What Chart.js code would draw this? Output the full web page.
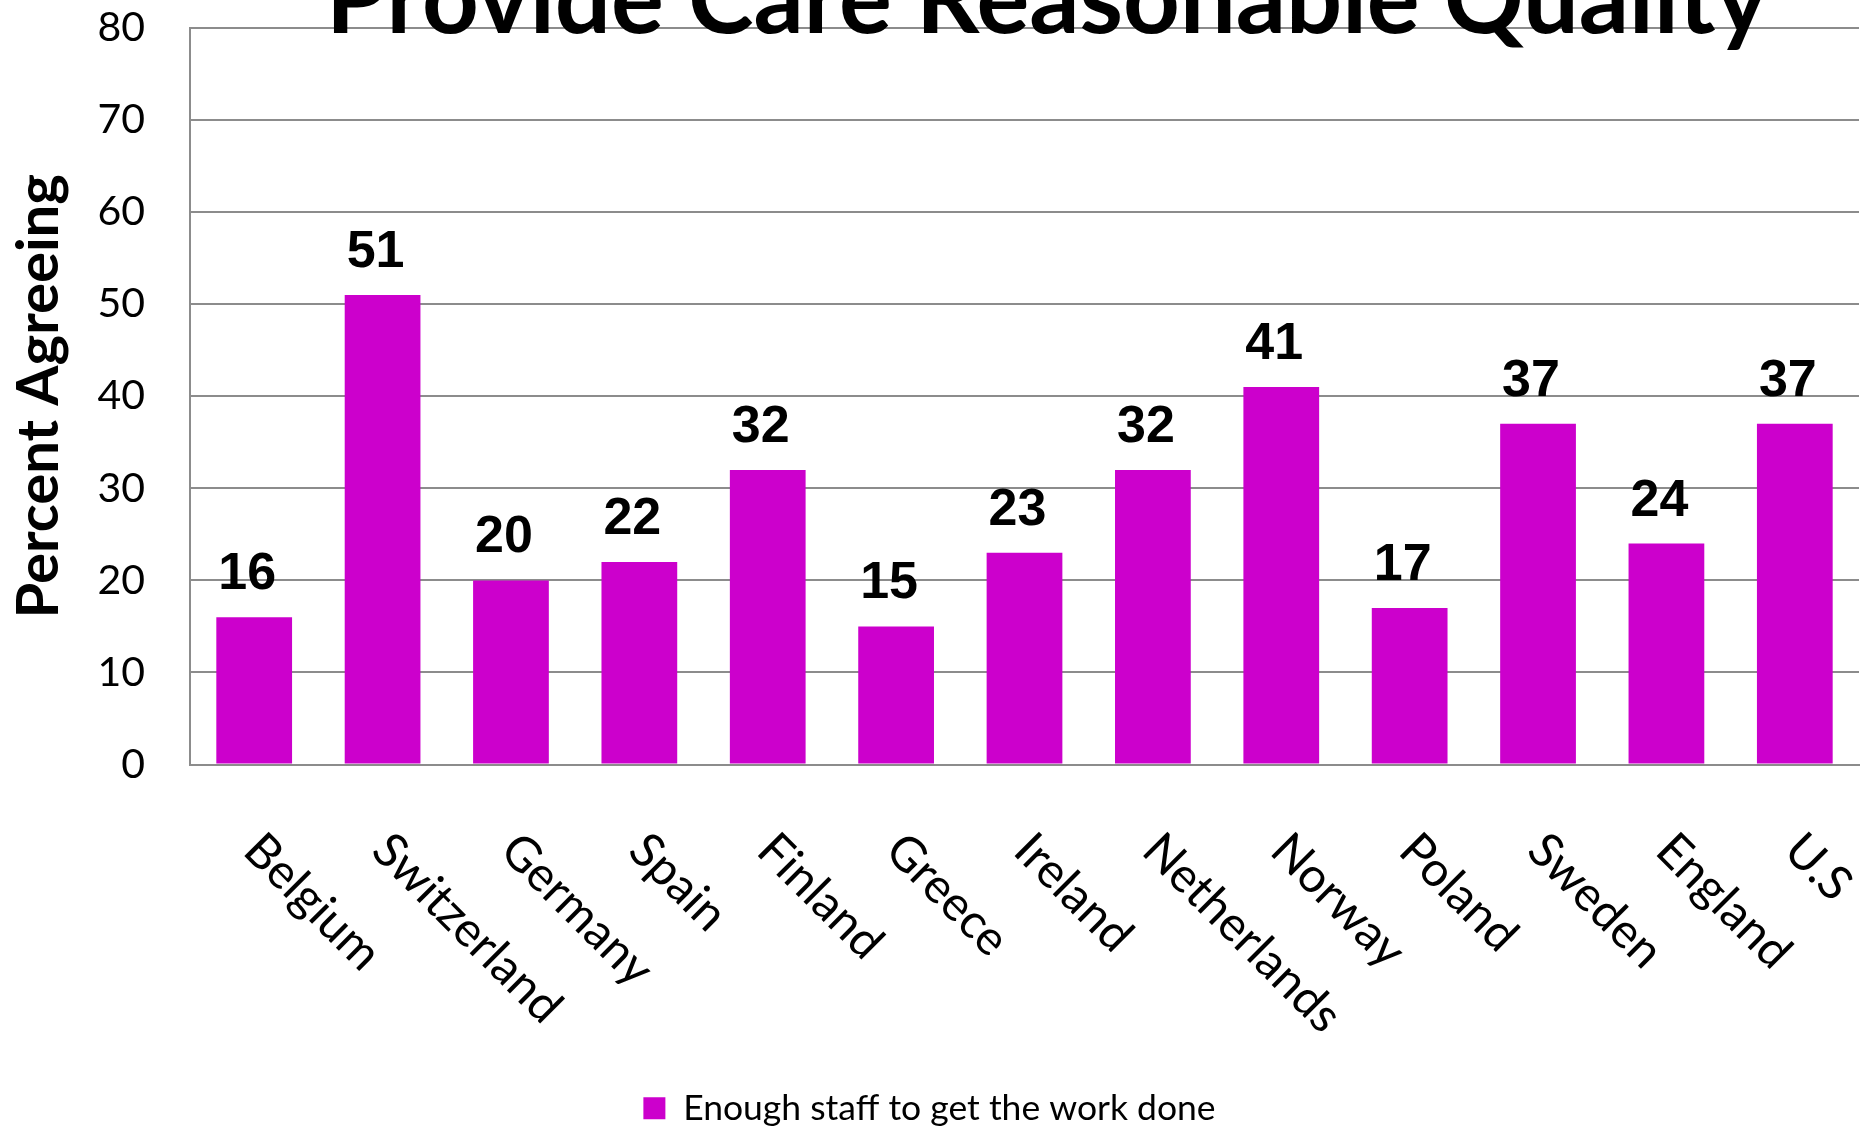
<!DOCTYPE html>
<html>
<head>
<meta charset="utf-8">
<script src="https://cdn.jsdelivr.net/npm/chart.js@4.4.1/dist/chart.umd.min.js"></script>
<style>
  html, body { margin: 0; padding: 0; background: #fff; overflow: hidden; }
  #wrap { width: 1867px; height: 1128px; overflow: hidden; }
</style>
</head>
<body>
<div id="wrap"><canvas id="chart" width="1867" height="1136"></canvas></div>
<script>
const countries = ['Belgium', 'Switzerland', 'Germany', 'Spain', 'Finland', 'Greece', 'Ireland',
    'Netherlands', 'Norway', 'Poland', 'Sweden', 'England', 'U.S'];
const enoughStaff = [16, 51, 20, 22, 32, 15, 23, 32, 41, 17, 37, 24, 37];
const yTicks = [0, 10, 20, 30, 40, 50, 60, 70, 80];

const chartTitle = 'Provide Care Reasonable Quality';
const gridGrey = '#8c8c8c';

// title, value labels and slanted country names are drawn by hand
const extraText = {
    id: 'extraText',
    afterDraw(chart) {
        const ctx = chart.ctx;
        const x = chart.scales.x;
        ctx.save();
        ctx.fillStyle = '#000';

        ctx.font = 'bold 99px Lato';
        ctx.textAlign = 'center';
        ctx.textBaseline = 'alphabetic';
        ctx.fillText(chartTitle, 1047, 33);

        ctx.font = 'bold 52px "Liberation Sans"';
        chart.getDatasetMeta(0).data.forEach((bar, i) => {
            ctx.fillText(String(enoughStaff[i]), bar.x - 7, bar.y - 28);
        });

        ctx.font = '48px Lato';
        ctx.textAlign = 'left';
        countries.forEach((name, i) => {
            const px = x.getPixelForValue(i);
            ctx.save();
            ctx.translate(px - 13, 853);
            ctx.rotate(Math.PI / 4);
            ctx.fillText(name, 0, 0);
            ctx.restore();
        });
        ctx.restore();
    }
};

new Chart(document.getElementById('chart'), {
    type: 'bar',
    data: {
        labels: countries,
        datasets: [{
            label: 'Enough staff to get the work done',
            data: enoughStaff,
            backgroundColor: '#cc00cc',
            barPercentage: 0.59,
            categoryPercentage: 1
        }]
    },
    options: {
        responsive: false,
        animation: false,
        layout: { padding: { top: 28, right: 8, left: 0, bottom: 0 } },
        scales: {
            x: {
                grid: { display: false },
                border: { display: true, color: gridGrey, width: 2 },
                ticks: { display: false },
                afterFit: (s) => { s.height = 316; }
            },
            y: {
                min: 0,
                max: 80,
                afterBuildTicks: (s) => { s.ticks = yTicks.map(v => ({ value: v })); },
                grid: { color: gridGrey, lineWidth: 2, drawTicks: false },
                border: { display: true, color: gridGrey, width: 2 },
                ticks: { color: '#000', font: { family: 'Lato', size: 41 }, padding: 45 },
                title: {
                    display: true,
                    text: 'Percent Agreeing',
                    color: '#000',
                    font: { family: 'Lato', size: 58, weight: 'bold' },
                    padding: { top: 4, bottom: 0 }
                },
                afterFit: (s) => {
                    s.width = 190;
                    // tick padding would otherwise push the plot down
                    s.paddingTop = 0;
                    s.paddingBottom = 0;
                }
            }
        },
        plugins: {
            title: { display: false },
            tooltip: { enabled: false },
            legend: {
                position: 'bottom',
                labels: {
                    color: '#000',
                    boxWidth: 22,
                    boxHeight: 22,
                    padding: 10,
                    font: { family: 'Lato', size: 35.5 }
                }
            }
        }
    },
    plugins: [extraText]
});
</script>
</body>
</html>
